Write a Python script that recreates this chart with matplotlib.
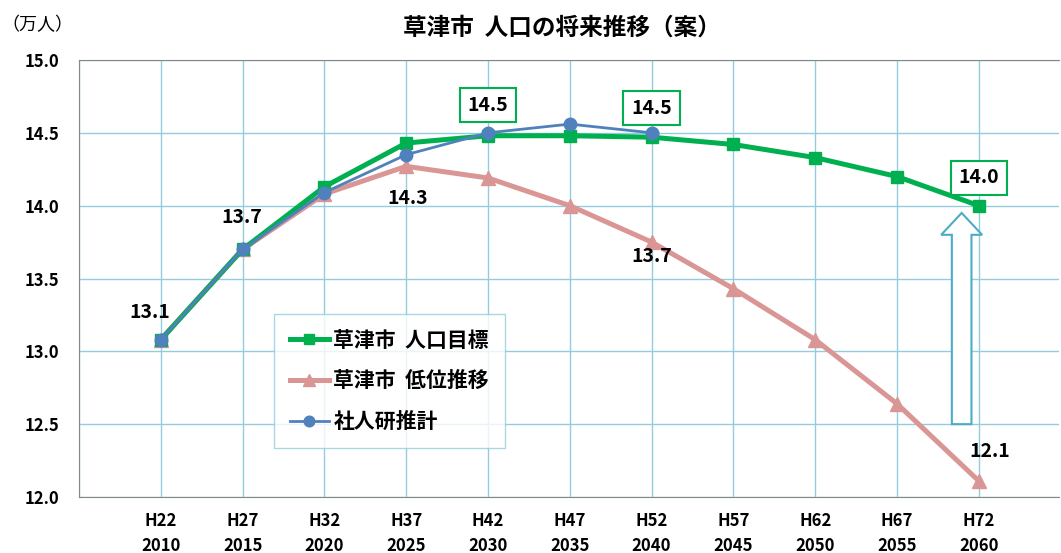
import numpy as np
import matplotlib.pyplot as plt
from matplotlib.patches import FancyArrow

plt.rcParams['font.family'] = ['Noto Sans CJK JP', 'DejaVu Sans']

years = ["2010", "2015", "2020", "2025", "2030", "2035", "2040", "2045", "2050", "2055", "2060"]
heisei = ["H22", "H27", "H32", "H37", "H42", "H47", "H52", "H57", "H62", "H67", "H72"]
target = [13.08, 13.70, 14.13, 14.43, 14.48, 14.48, 14.47, 14.42, 14.33, 14.20, 14.00]
low = [13.08, 13.70, 14.08, 14.27, 14.19, 14.00, 13.75, 13.43, 13.08, 12.64, 12.11]
ipss = [13.08, 13.70, 14.09, 14.35, 14.50, 14.56, 14.50]

green = "#00B050"
pink = "#D99694"
blue = "#4F81BD"
gridc = "#93CDDD"

x = np.arange(len(years))

fig = plt.figure(figsize=(10.61, 5.53), dpi=100)
ax = fig.add_axes([79/1061, 56/553, 980/1061, 437/553])

l_low, = ax.plot(x, low, color=pink, lw=3.6, marker="^", ms=10, label="草津市  低位推移", zorder=3)
l_tgt, = ax.plot(x, target, color=green, lw=3.6, marker="s", ms=9, label="草津市  人口目標", zorder=4)
l_ips, = ax.plot(x[:len(ipss)], ipss, color=blue, lw=2, marker="o", ms=9, label="社人研推計", zorder=5)

ax.set_xlim(-1, 10.98)
ax.set_ylim(12.0, 15.0)
yt = np.arange(12.0, 15.01, 0.5)
ax.set_yticks(yt)
ax.set_yticklabels([f"{v:.1f}" for v in yt], fontweight="bold", fontsize=12)
ax.set_xticks(np.arange(-1, 11))
ax.set_xticklabels([""] + [f"{h}\n{y}" for h, y in zip(heisei, years)], fontweight="bold", fontsize=12, linespacing=1.45)
ax.tick_params(length=0, pad=11)
ax.tick_params(axis="y", pad=14)
ax.grid(True, color=gridc, lw=1)
ax.set_axisbelow(True)
for s in ax.spines.values():
    s.set_color("#868686")
ax.spines["right"].set_visible(False)

# labels
lbl = dict(fontsize=14, fontweight="bold", ha="center", va="center", zorder=6)
ax.text(x[0] - 0.13, 13.27, "13.1", **lbl)
ax.text(x[1] - 0.01, 13.92, "13.7", **lbl)
ax.text(x[3] + 0.02, 14.05, "14.3", **lbl)
ax.text(x[6], 13.65, "13.7", **lbl)
ax.text(x[10] + 0.13, 12.31, "12.1", **lbl)
box = dict(boxstyle="square,pad=0.4", fc="white", ec=green, lw=1.5)
ax.text(x[4], 14.69, "14.5", bbox=box, **lbl)
ax.text(x[6], 14.67, "14.5", bbox=box, **lbl)
ax.text(x[10], 14.19, "14.0", bbox=box, **lbl)

# hollow arrow
ax.add_patch(FancyArrow(x[10] - 0.21, 12.5, 0, 1.45, width=0.24, head_width=0.5,
                        head_length=0.15, length_includes_head=True,
                        fc="white", ec="#4BACC6", lw=1.5, zorder=2))

leg = ax.legend(handles=[l_tgt, l_low, l_ips], loc="upper left",
                bbox_to_anchor=(195/980, (497-314)/437),
                prop={"weight": "bold", "size": 15}, frameon=True, fancybox=False,
                edgecolor=gridc, handlelength=1.9, labelspacing=0.95, borderpad=0.75,
                borderaxespad=0, handletextpad=0.2, markerscale=0.85)
leg.get_frame().set_linewidth(1)

fig.text(562/1061, 1 - 28/553, "草津市  人口の将来推移（案）", ha="center", va="center",
         fontsize=17, fontweight="bold")
fig.text(37/1061, 1 - 25/553, "（万人）", ha="center", va="center", fontsize=13)

fig.savefig("out.png", dpi=100)
